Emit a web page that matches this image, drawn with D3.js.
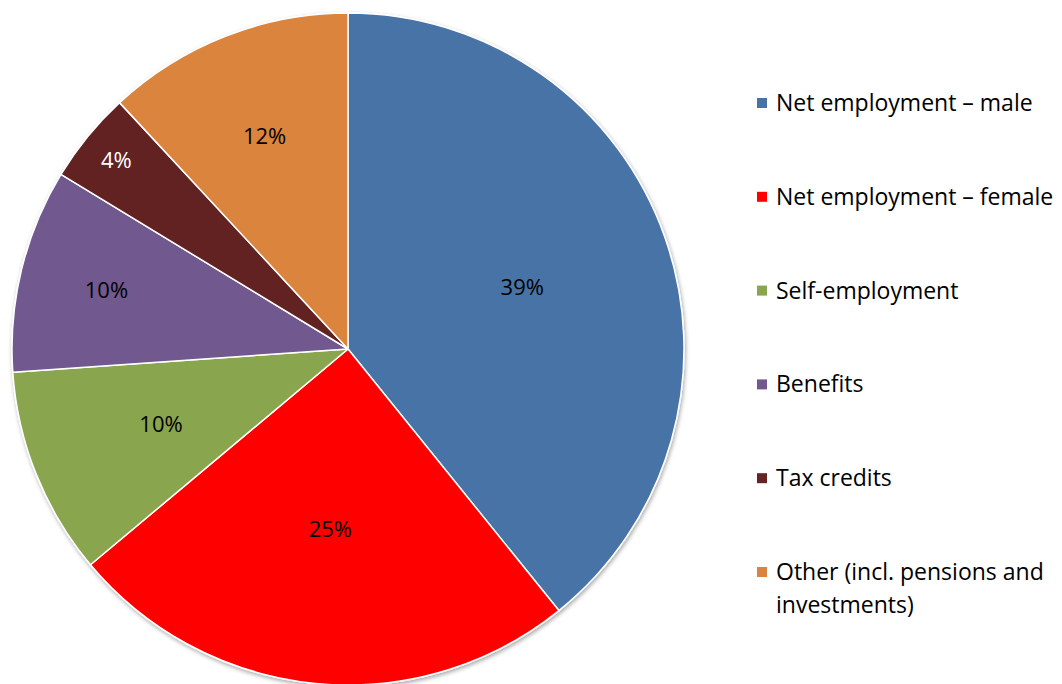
<!DOCTYPE html>
<html>
<head>
<meta charset="utf-8">
<script src="https://cdn.jsdelivr.net/npm/d3@7"></script>
<style>
  body { margin: 0; background: #fff; }
  text { font-family: "Open Sans", "DejaVu Sans", sans-serif; }
</style>
</head>
<body>
<script>
var width = 1062,
    height = 684;

// slice data (clockwise from 12 o'clock)
var categories = ["Net employment \u2013 male", "Net employment \u2013 female", "Self-employment",
                  "Benefits", "Tax credits", "Other (incl. pensions and investments)"];
var shares = [39.2, 24.7, 10.0, 9.8, 4.4, 11.9];
var labels = ["39%", "25%", "10%", "10%", "4%", "12%"];
var colors = ["#4673a7", "#ff0000", "#89a54e", "#71588f", "#632423", "#db843d"];
var labelColors = ["#000", "#000", "#000", "#000", "#fff", "#000"];
var legendLines = [["Net employment \u2013 male"], ["Net employment \u2013 female"], ["Self-employment"],
                   ["Benefits"], ["Tax credits"], ["Other (incl. pensions and", "investments)"]];

var cx = 348, cy = 349, radius = 336;
// how far out each percentage sits, as a share of the radius (like Excel's best fit)
var labelDepth = [0.55, 0.54, 0.60, 0.74, 0.89, 0.68];

var svg = d3.select("body")
            .append("svg")
            .attr("width", width)
            .attr("height", height);

var defs = svg.append("defs");
var shadow = defs.append("filter").attr("id", "shadow")
    .attr("x", "-10%").attr("y", "-10%").attr("width", "120%").attr("height", "120%");
shadow.append("feDropShadow")
    .attr("dx", 1).attr("dy", 2).attr("stdDeviation", 2)
    .attr("flood-color", "#000").attr("flood-opacity", 0.35);

var pie = d3.pie().sort(null).value(function(d) { return d; });
var arc = d3.arc().innerRadius(0).outerRadius(radius);

var g = svg.append("g")
           .attr("transform", "translate(" + cx + "," + cy + ")");

var arcs = pie(shares);

g.append("g")
 .attr("filter", "url(#shadow)")
 .selectAll("path")
 .data(arcs)
 .enter()
 .append("path")
 .attr("d", arc)
 .attr("fill", function(d, i) { return colors[i]; })
 .attr("stroke", "#fff")
 .attr("stroke-width", 1.5)
 .attr("stroke-linejoin", "round");

g.selectAll("text.lbl")
 .data(arcs)
 .enter()
 .append("text")
 .attr("class", "lbl")
 .attr("transform", function(d, i) {
        var r = radius * labelDepth[i];
        var la = d3.arc().innerRadius(r).outerRadius(r);
        return "translate(" + la.centroid(d) + ")";
 })
 .attr("text-anchor", "middle")
 .attr("dy", "0.35em")
 .attr("font-size", "22px")
 .attr("fill", function(d, i) { return labelColors[i]; })
 .text(function(d, i) { return labels[i]; });

// legend
var legendY = d3.scalePoint().domain(categories).range([103, 572]);

var leg = svg.selectAll("g.leg")
             .data(categories)
             .enter()
             .append("g")
             .attr("class", "leg")
             .attr("transform", function(d) { return "translate(757," + legendY(d) + ")"; });

leg.append("rect")
   .attr("x", 0)
   .attr("y", -5)
   .attr("width", 10)
   .attr("height", 10)
   .attr("fill", function(d, i) { return colors[i]; });

leg.append("text")
   .attr("font-size", "23px")
   .attr("fill", "#000")
   .selectAll("tspan")
   .data(function(d, i) { return legendLines[i]; })
   .enter()
   .append("tspan")
   .attr("x", 19)
   .attr("dy", function(d, j) { return j === 0 ? "0.35em" : "33px"; })
   .text(function(d) { return d; });
</script>
</body>
</html>
